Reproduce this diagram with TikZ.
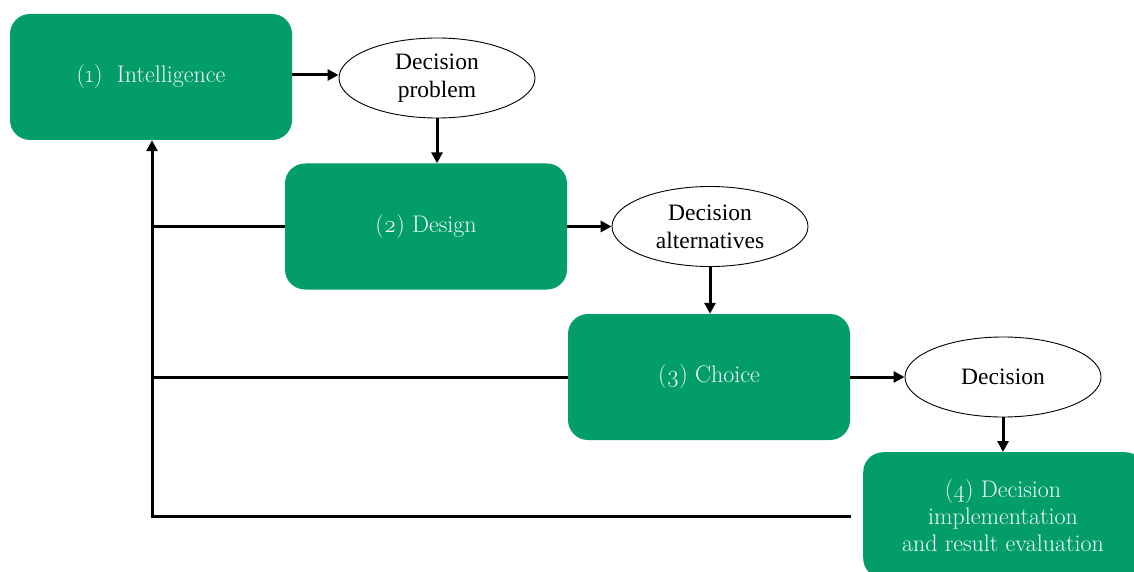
\documentclass[tikz,border=0pt]{standalone}
\usepackage{fontspec}
\setmainfont{Latin Modern Roman}
\newfontfamily\ellfont{Liberation Serif}
\usetikzlibrary{arrows.meta,shapes.geometric}
\definecolor{boxgreen}{RGB}{2,157,106}
\definecolor{boxtext}{RGB}{242,250,246}
\tikzset{
  x=1pt,y=-1pt,
  phase/.style={fill=boxgreen,rounded corners=20pt,minimum width=282pt,minimum height=126pt,
    text=boxtext,font=\fontsize{24}{27}\selectfont,align=center,inner sep=0pt},
  outcome/.style={ellipse,draw=black,line width=0.9pt,fill=white,minimum width=196pt,minimum height=80pt,
    inner sep=0pt,font=\ellfont\fontsize{23.5}{28}\selectfont,align=center},
  flow/.style={line width=3pt,-{Triangle[length=11pt,width=11pt]}},
  back/.style={line width=3pt},
}
\begin{document}
\begin{tikzpicture}
\useasboundingbox (0,0) rectangle (1134,572);
\node[phase] (b1) at (151,77) {\oldstylenums{(1)}\ \ Intelligence};
\node[outcome] (e1) at (437,78) {Decision\\problem};
\node[phase] (b2) at (426,226.5) {\oldstylenums{(2)} Design};
\node[outcome] (e2) at (710,226.5) {Decision\\alternatives};
\node[phase] (b3) at (709,377) {\oldstylenums{(3)} Choice};
\node[outcome] (e3) at (1003,377) {Decision};
\node[phase,anchor=north west] (b4) at (863,452) {};
\node[text=boxtext,font=\fontsize{24}{27}\selectfont,align=center] (t4) at (1003,516) {\oldstylenums{(4)} Decision\\implementation\\and result evaluation};
\coordinate (j) at (152,516);
\coordinate (r4) at (851,516);
\coordinate (j2) at (152,226.5);
\coordinate (j3) at (152,377);
\draw[flow] (b1.east |- 0,75) -- (e1.west |- 0,75);
\draw[flow] (e1.south) -- (b2.north -| e1.south);
\draw[flow] (b2.east) -- (e2.west);
\draw[flow] (e2.south) -- (b3.north -| e2.south);
\draw[flow] (b3.east) -- (e3.west);
\draw[flow] (e3.south) -- (b4.north -| e3.south);
\draw[back] (b2.west) -- (j2);
\draw[back] (b3.west) -- (j3);
\draw[flow,line join=miter] (r4) -- (j) -- (b1.south -| j);
\end{tikzpicture}
\end{document}
